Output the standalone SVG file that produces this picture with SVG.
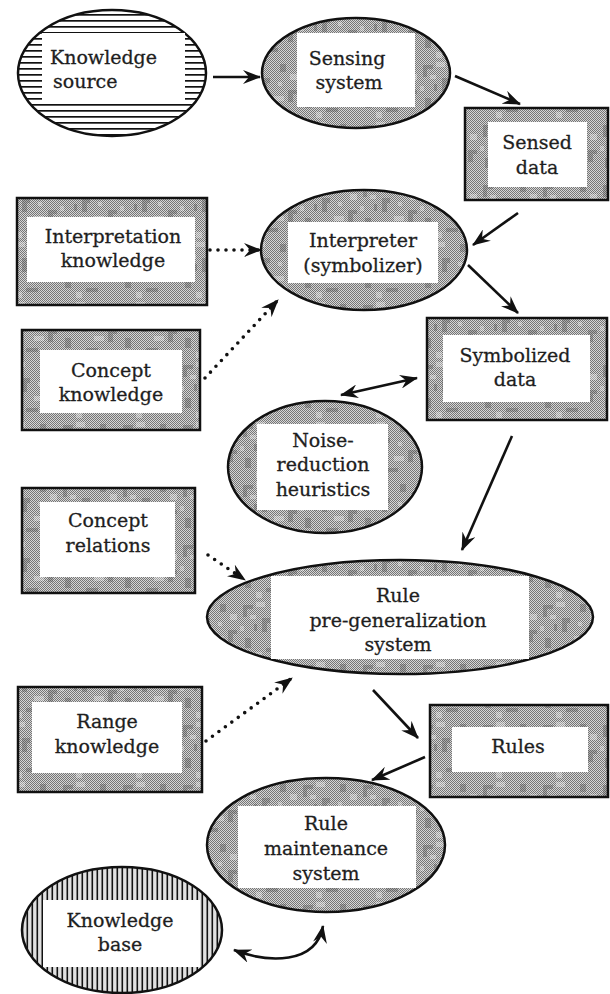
<svg xmlns="http://www.w3.org/2000/svg" width="610" height="994" viewBox="0 0 610 994">
<style>
  .lbl { font-family: "DejaVu Serif", "Liberation Serif", serif; font-size: 19px; fill: #1e1e1e; stroke: #1e1e1e; stroke-width: 0.3; text-anchor: middle; }
  .shape { stroke: #111; stroke-width: 2.5; }
  .tex { fill: url(#tex); }
  .in { fill: #ffffff; }
  .conn { stroke: #111; stroke-width: 2.6; fill: none; }
  .dot { stroke: #111; stroke-width: 3.6; stroke-linecap: round; stroke-dasharray: 0 8; fill: none; }
</style>
<defs>
  <pattern id="chk" width="2" height="2" patternUnits="userSpaceOnUse">
    <rect width="2" height="2" fill="#d6d6d6"/>
    <rect width="1" height="1" fill="#767676"/>
    <rect x="1" y="1" width="1" height="1" fill="#767676"/>
  </pattern>
  <pattern id="tex" width="60" height="60" patternUnits="userSpaceOnUse">
    <rect width="60" height="60" fill="url(#chk)"/>
    <path d="M3,5h10v4h-6v8h-4z M22,18h8v5h-3v9h-5z M5,38h6v10h-6z M40,4h6v8h-6z M48,30h9v4h-4v8h-5z M26,48h12v4h-12z M14,24h3v7h-3z" fill="#4a4a4a" opacity="0.3"/>
    <path d="M16,2h9v5h-9z M34,36h10v5h-10z M10,15h6v4h-6z M0,26h4v5h-4z M50,14h7v6h-7z M16,52h6v6h-6z M38,22h4v4h-4z" fill="#ffffff" opacity="0.3"/>
  </pattern>
  <pattern id="hstripe" width="10" height="6" patternUnits="userSpaceOnUse">
    <rect width="10" height="6" fill="#ffffff"/>
    <rect y="2" width="10" height="1.7" fill="#111"/>
  </pattern>
  <pattern id="vstripe" width="5" height="10" patternUnits="userSpaceOnUse">
    <rect width="5" height="10" fill="#e0e0e0"/>
    <rect x="1.5" width="1.6" height="10" fill="#111"/>
  </pattern>
  <marker id="ah" viewBox="0 0 18 14" markerWidth="18" markerHeight="14" refX="17" refY="7" orient="auto-start-reverse" markerUnits="userSpaceOnUse">
    <path d="M0,0 L18,7 L0,14 L6,7 z" fill="#111"/>
  </marker>
</defs>
<rect width="610" height="994" fill="#ffffff"/>

<g id="knowledge-source">
  <ellipse class="shape" cx="112" cy="73" rx="94" ry="63" fill="url(#hstripe)"/>
  <rect class="in" x="42" y="33" width="143" height="70"/>
  <text class="lbl" x="50" y="64" style="text-anchor:start">Knowledge</text>
  <text class="lbl" x="53" y="88" style="text-anchor:start">source</text>
</g>

<g id="sensing-system">
  <ellipse class="shape tex" cx="356" cy="73" rx="94" ry="55"/>
  <rect class="in" x="297" y="33" width="118" height="74"/>
  <text class="lbl" x="347" y="65">Sensing</text>
  <text class="lbl" x="349" y="89">system</text>
</g>

<g id="sensed-data">
  <rect class="shape tex" x="465" y="108" width="143" height="92"/>
  <rect class="in" x="488" y="122" width="99" height="65"/>
  <text class="lbl" x="537" y="149">Sensed</text>
  <text class="lbl" x="537" y="174">data</text>
</g>

<g id="interpretation-knowledge">
  <rect class="shape tex" x="17" y="198" width="190" height="107"/>
  <rect class="in" x="27" y="217" width="168" height="65"/>
  <text class="lbl" x="113" y="243">Interpretation</text>
  <text class="lbl" x="113" y="267">knowledge</text>
</g>

<g id="interpreter">
  <ellipse class="shape tex" cx="364" cy="250" rx="103" ry="60"/>
  <rect class="in" x="288" y="222" width="150" height="61"/>
  <text class="lbl" x="363" y="247">Interpreter</text>
  <text class="lbl" x="363" y="272">(symbolizer)</text>
</g>

<g id="symbolized-data">
  <rect class="shape tex" x="427" y="318" width="180" height="102"/>
  <rect class="in" x="443" y="335" width="147" height="67"/>
  <text class="lbl" x="515" y="362">Symbolized</text>
  <text class="lbl" x="515" y="386">data</text>
</g>

<g id="concept-knowledge">
  <rect class="shape tex" x="22" y="330" width="178" height="100"/>
  <rect class="in" x="40" y="350" width="142" height="63"/>
  <text class="lbl" x="111" y="377">Concept</text>
  <text class="lbl" x="111" y="401">knowledge</text>
</g>

<g id="noise-reduction-heuristics">
  <ellipse class="shape tex" cx="325" cy="467" rx="97" ry="66"/>
  <rect class="in" x="257" y="424" width="131" height="86"/>
  <text class="lbl" x="323" y="447">Noise-</text>
  <text class="lbl" x="323" y="471">reduction</text>
  <text class="lbl" x="323" y="496">heuristics</text>
</g>

<g id="concept-relations">
  <rect class="shape tex" x="22" y="488" width="173" height="105"/>
  <rect class="in" x="40" y="502" width="135" height="75"/>
  <text class="lbl" x="108" y="527">Concept</text>
  <text class="lbl" x="108" y="552">relations</text>
</g>

<g id="rule-pre-generalization-system">
  <ellipse class="shape tex" cx="400" cy="617" rx="193" ry="57"/>
  <rect class="in" x="271" y="576" width="258" height="83"/>
  <text class="lbl" x="398" y="602">Rule</text>
  <text class="lbl" x="398" y="627">pre-generalization</text>
  <text class="lbl" x="398" y="651">system</text>
</g>

<g id="range-knowledge">
  <rect class="shape tex" x="18" y="687" width="184" height="105"/>
  <rect class="in" x="32" y="702" width="150" height="71"/>
  <text class="lbl" x="107" y="728">Range</text>
  <text class="lbl" x="107" y="753">knowledge</text>
</g>

<g id="rules">
  <rect class="shape tex" x="430" y="705" width="178" height="92"/>
  <rect class="in" x="452" y="727" width="136" height="45"/>
  <text class="lbl" x="518" y="753">Rules</text>
</g>

<g id="rule-maintenance-system">
  <ellipse class="shape tex" cx="326" cy="845" rx="119" ry="67"/>
  <rect class="in" x="238" y="806" width="178" height="82"/>
  <text class="lbl" x="326" y="830">Rule</text>
  <text class="lbl" x="326" y="855">maintenance</text>
  <text class="lbl" x="326" y="880">system</text>
</g>

<g id="knowledge-base">
  <ellipse class="shape" cx="122" cy="930" rx="100" ry="63" fill="url(#vstripe)"/>
  <rect class="in" x="43" y="900" width="157" height="67"/>
  <text class="lbl" x="120" y="927">Knowledge</text>
  <text class="lbl" x="120" y="951">base</text>
</g>

<g id="connectors">
  <line class="conn" x1="213" y1="77" x2="260" y2="77" marker-end="url(#ah)"/>
  <line class="conn" x1="455" y1="76" x2="520" y2="104" marker-end="url(#ah)"/>
  <line class="conn" x1="518" y1="213" x2="473" y2="245" marker-end="url(#ah)"/>
  <line class="conn" x1="468" y1="265" x2="518" y2="313" marker-end="url(#ah)"/>
  <line class="dot" x1="210" y1="250" x2="261" y2="250" marker-end="url(#ah)"/>
  <line class="dot" x1="205" y1="378" x2="278" y2="300" marker-end="url(#ah)"/>
  <line class="conn" x1="341" y1="395" x2="417" y2="378" marker-start="url(#ah)" marker-end="url(#ah)"/>
  <line class="conn" x1="512" y1="436" x2="462" y2="550" marker-end="url(#ah)"/>
  <line class="dot" x1="208" y1="555" x2="245" y2="580" marker-end="url(#ah)"/>
  <line class="dot" x1="206" y1="741" x2="292" y2="678" marker-end="url(#ah)"/>
  <line class="conn" x1="373" y1="690" x2="418" y2="738" marker-end="url(#ah)"/>
  <line class="conn" x1="425" y1="757" x2="372" y2="780" marker-end="url(#ah)"/>
  <path class="conn" d="M234,950 C268,963 316,965 323,926" marker-start="url(#ah)" marker-end="url(#ah)"/>
</g>
</svg>
